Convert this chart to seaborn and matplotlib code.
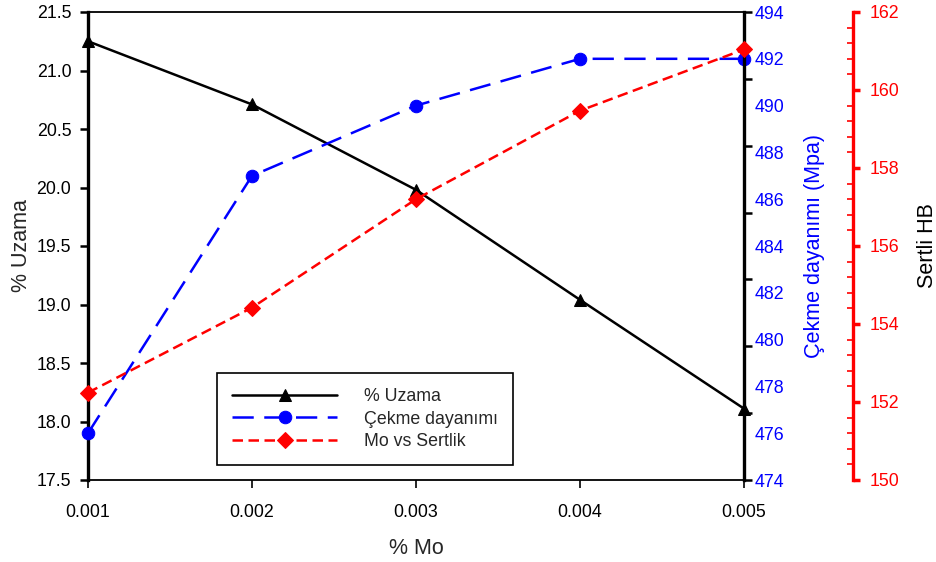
import numpy as np
import pandas as pd
import matplotlib
matplotlib.use("Agg")
import matplotlib.pyplot as plt
import matplotlib.ticker as mticker
import seaborn as sns

# ---- data ----
mo = [0.001, 0.002, 0.003, 0.004, 0.005]
uzama = [21.25, 20.71, 19.98, 19.04, 18.11]
cekme = [476.0, 487.0, 490.0, 492.0, 492.0]
sertlik = [152.24, 154.42, 157.20, 159.47, 161.04]
labels = ["% Uzama", "Çekme dayanımı", "Mo vs Sertlik"]
x_ticks = [0.001, 0.002, 0.003, 0.004, 0.005]

df = pd.DataFrame({"mo": mo, "uzama": uzama, "cekme": cekme, "sertlik": sertlik})

sns.set_style("ticks")
plt.rcParams["font.family"] = ["Liberation Sans", "DejaVu Sans"]

TS = 12.8   # tick label size
LS = 15.5   # axis label size

fig = plt.figure(figsize=(9.36, 5.62), dpi=100)
ax1 = fig.add_axes([88 / 936, 1 - 480 / 562, (744 - 88) / 936, (480 - 12) / 562])
ax2 = ax1.twinx()
ax3 = ax1.twinx()

lw = 1.8
sns.lineplot(data=df, x="mo", y="uzama", ax=ax1, color="black", lw=lw,
             marker="^", markersize=9, mec="black", mfc="black", clip_on=False)
sns.lineplot(data=df, x="mo", y="cekme", ax=ax2, color="blue", lw=lw,
             linestyle=(0, (8.5, 4.2)), marker="o", markersize=9, mec="blue",
             mfc="blue", clip_on=False)
sns.lineplot(data=df, x="mo", y="sertlik", ax=ax3, color="red", lw=lw,
             linestyle=(0, (4.2, 2.2)), marker="D", markersize=8, mec="red",
             mfc="red", clip_on=False)

# x axis
ax1.set_xlim(0.001, 0.005)
ax1.set_xticks(x_ticks)
ax1.xaxis.set_major_formatter(mticker.FormatStrFormatter("%.3f"))
ax1.set_xlabel("% Mo", fontsize=LS)
ax1.xaxis.set_label_coords(0.5, -(548 - 480) / 468)
ax1.xaxis.label.set_va("center")
ax1.tick_params(axis="x", direction="out", length=6, width=1.2, pad=11,
                labelsize=TS, colors="black")

# left axis
ax1.set_ylim(17.5, 21.5)
ax1.set_yticks(np.arange(17.5, 21.51, 0.5))
ax1.yaxis.set_major_formatter(mticker.FormatStrFormatter("%.1f"))
ax1.set_ylabel("% Uzama", fontsize=LS)
ax1.yaxis.set_label_coords((22 - 88) / 656, 0.5)
ax1.yaxis.label.set_va("center")
ax1.tick_params(axis="y", direction="out", length=6, width=1.8, pad=6,
                labelsize=TS, colors="black")

for s in ["top", "bottom"]:
    ax1.spines[s].set_linewidth(1.3)
    ax1.spines[s].set_color("black")
ax1.spines["left"].set_linewidth(2.4)
ax1.spines["left"].set_color("black")
ax1.spines["right"].set_visible(False)

# blue axis: labels every 2, tick marks at 7 equal intervals (as in reference)
ax2.set_ylim(474, 494)
ax2.yaxis.remove_overlapping_locs = False
ax2.yaxis.set_major_locator(mticker.FixedLocator(np.arange(474, 494.1, 2)))
ax2.yaxis.set_major_formatter(mticker.FormatStrFormatter("%d"))
ax2.yaxis.set_minor_locator(mticker.FixedLocator(np.linspace(474, 494, 8)))
ax2.tick_params(axis="y", which="major", length=0, pad=8, labelsize=TS,
                labelcolor="blue")
ax2.tick_params(axis="y", which="minor", direction="out", length=6, width=1.8,
                color="black")
ax2.set_ylabel("Çekme dayanımı (Mpa)", fontsize=LS, color="blue")
ax2.yaxis.set_label_coords((814 - 88) / 656, 0.5)
ax2.yaxis.label.set_va("center")
ax2.spines["right"].set_linewidth(2.4)
ax2.spines["right"].set_color("black")
for s in ["top", "bottom", "left"]:
    ax2.spines[s].set_visible(False)

# red axis
ax3.set_ylim(150, 162)
ax3.spines["right"].set_position(("axes", (853 - 88) / 656))
ax3.set_yticks(np.arange(150, 162.1, 2))
ax3.yaxis.set_minor_locator(mticker.MultipleLocator(0.4))
ax3.tick_params(axis="y", which="major", direction="out", length=5, width=2.5,
                pad=7, labelsize=TS, colors="red")
ax3.tick_params(axis="y", which="minor", direction="in", length=4, width=1.2,
                colors="red")
ax3.set_ylabel("Sertli HB", fontsize=LS, color="black")
ax3.yaxis.set_label_coords((927 - 88) / 656, 0.5)
ax3.yaxis.label.set_va("center")
ax3.spines["right"].set_linewidth(2.4)
ax3.spines["right"].set_color("red")
for s in ["top", "bottom", "left"]:
    ax3.spines[s].set_visible(False)

for a in (ax1, ax2, ax3):
    a.grid(False)
ax2.patch.set_visible(False)
ax3.patch.set_visible(False)

handles = [ax1.get_lines()[-1], ax2.get_lines()[-1], ax3.get_lines()[-1]]
leg = ax3.legend(handles, labels, loc="lower left",
                 bbox_to_anchor=((217 - 88) / 656, (480 - 465) / 468),
                 borderaxespad=0, fontsize=TS, frameon=True, fancybox=False,
                 edgecolor="black", framealpha=1, handlelength=5.9,
                 handletextpad=1.5, labelspacing=0.3, borderpad=0.85,
                 numpoints=1)
leg.get_frame().set_linewidth(1.2)

fig.savefig("out.png", dpi=100)
